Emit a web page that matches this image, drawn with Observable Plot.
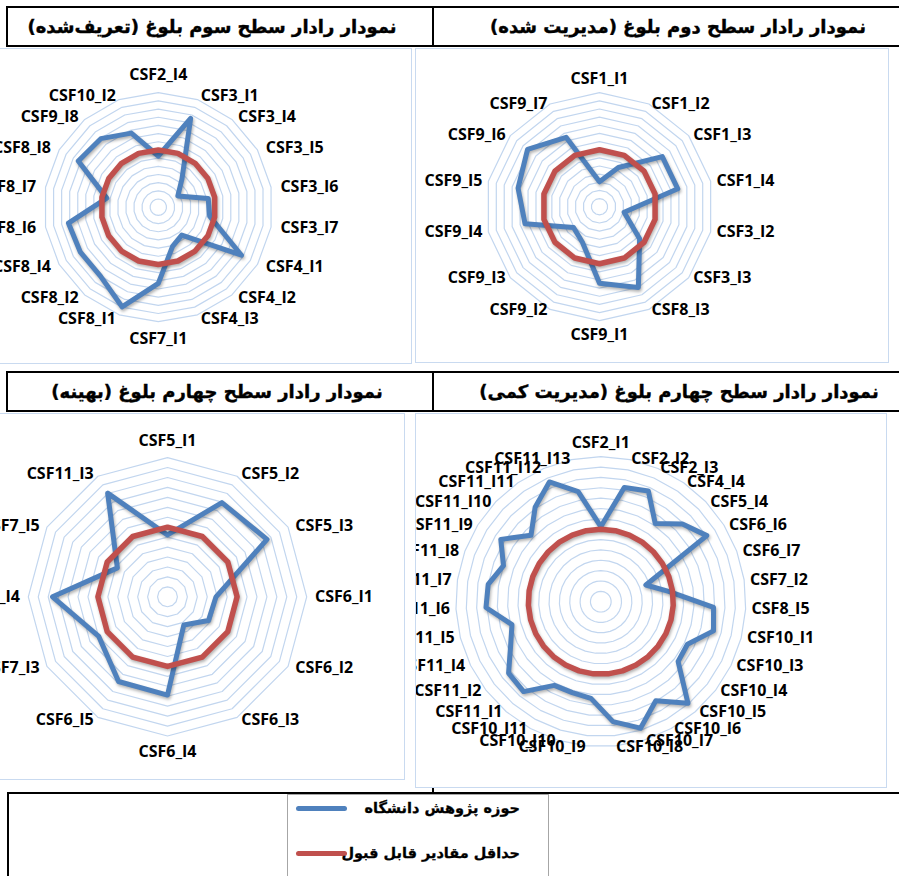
<!DOCTYPE html>
<html><head><meta charset="utf-8">
<script src="https://cdn.jsdelivr.net/npm/d3@7"></script>
<script src="https://cdn.jsdelivr.net/npm/@observablehq/plot@0.6"></script>
<style>
body{margin:0;background:#fff;}
#page{position:relative;width:899px;height:876px;overflow:hidden;background:#fff;}
.ln{position:absolute;background:#000;}
.box{position:absolute;border:1.5px solid #c9daf0;box-sizing:border-box;background:#fff;overflow:hidden;}
.box svg{position:absolute;left:0;top:0;max-width:none;}
.hdr{position:absolute;font-family:"DejaVu Sans";font-weight:bold;font-size:18px;direction:rtl;white-space:nowrap;transform:translate(-50%,-50%);color:#000;-webkit-text-stroke:0.4px #000;}
#legend{position:absolute;left:287px;top:794px;width:262px;height:100px;border:1px solid #a6a6a6;box-sizing:border-box;background:#fff;}
.lgline{position:absolute;height:5px;border-radius:3px;}
.lgtxt{position:absolute;font-family:"DejaVu Sans";font-weight:bold;font-size:14.5px;direction:rtl;white-space:nowrap;transform:translateY(-50%);-webkit-text-stroke:0.3px #000;}
g[stroke="#4f81bd"], g[stroke="#c0504d"]{filter:drop-shadow(1.5px 2px 1.5px rgba(0,0,0,0.3));}
</style></head>
<body><div id="page"></div>
<script>
// ---------- data ----------
const rings = [0.5,1,1.5,2,2.5,3,3.5,4,4.5,5,5.5,6,6.5,7];
const MAXV = 7;

const catsTL = ["CSF2_I4","CSF3_I1","CSF3_I4","CSF3_I5","CSF3_I6","CSF3_I7","CSF4_I1","CSF4_I2","CSF4_I3","CSF7_I1","CSF8_I1","CSF8_I2","CSF8_I4","CSF8_I6","CSF8_I7","CSF8_I8","CSF9_I8","CSF10_I2"];
const blueTL = [3.13,5.78,2.25,1.38,3.1,3.19,5.87,2.23,2.55,4.66,6.48,5.5,5.5,5.58,3.2,5.65,5.47,4.82];
const redTL  = [3.5,3.5,3.5,3.5,3.5,3.5,3.5,3.5,3.5,3.5,3.5,3.5,3.5,3.5,3.5,3.5,3.5,3.5];

const catsTR = ["CSF1_I1","CSF1_I2","CSF1_I3","CSF1_I4","CSF3_I2","CSF3_I3","CSF8_I3","CSF9_I1","CSF9_I2","CSF9_I3","CSF9_I4","CSF9_I5","CSF9_I6","CSF9_I7"];
const blueTR = [1.53,2.67,4.93,4.93,1.55,3.15,5.5,4.7,2.42,2.04,4.69,5.13,5.65,4.73];
const redTR  = [3.5,3.5,3.5,3.5,3.5,3.5,3.5,3.5,3.5,3.5,3.5,3.5,3.5,3.5];

const catsBL = ["CSF5_I1","CSF5_I2","CSF5_I3","CSF6_I1","CSF6_I2","CSF6_I3","CSF6_I4","CSF6_I5","CSF7_I3","CSF7_I4","CSF7_I5","CSF11_I3"];
const blueBL = [3.11,5.47,5.78,2.44,2.38,1.64,4.94,4.92,3.99,5.78,2.91,6.02];
const redBL  = [3.5,3.5,3.5,3.5,3.5,3.5,3.5,3.5,3.5,3.5,3.5,3.5];

const catsBR = ["CSF2_I1","CSF2_I2","CSF2_I3","CSF4_I4","CSF5_I4","CSF6_I6","CSF6_I7","CSF7_I2","CSF8_I5","CSF10_I1","CSF10_I3","CSF10_I4","CSF10_I5","CSF10_I6","CSF10_I7","CSF10_I8","CSF10_I9","CSF10_I10","CSF10_I11","CSF11_I1","CSF11_I2","CSF11_I4","CSF11_I5","CSF11_I6","CSF11_I7","CSF11_I8","CSF11_I9","CSF11_I10","CSF11_I11","CSF11_I12","CSF11_I13"];
const blueBR = [3.62,5.63,5.82,4.6,5.44,6.03,2.32,3.31,5.45,5.62,4.66,4.72,6.46,5.47,6.4,5.82,4.69,4.6,4.62,5.72,5.63,4.85,4.43,5.55,5.5,5.01,5.69,4.65,5.55,6.29,5.43];
const redBR  = [3.5,3.5,3.5,3.5,3.5,3.5,3.5,3.5,3.5,3.5,3.5,3.5,3.5,3.5,3.5,3.5,3.5,3.5,3.5,3.5,3.5,3.5,3.5,3.5,3.5,3.5,3.5,3.5,3.5,3.5,3.5];

const titles = {
  tl: "نمودار رادار سطح سوم بلوغ (تعریف\u200cشده)",
  tr: "نمودار رادار سطح دوم بلوغ (مدیریت شده)",
  bl: "نمودار رادار سطح چهارم بلوغ (بهینه)",
  br: "نمودار رادار سطح چهارم بلوغ (مدیریت کمی)"
};
const seriesNames = ["حوزه پژوهش دانشگاه", "حداقل مقادیر قابل قبول"];

// ---------- styles / layout ----------
const BLUE = "#4f81bd", RED = "#c0504d", GRID = "#c2d6ef";
const BW = 1.5;
const page = document.getElementById("page");

function el(cls, css, text) {
  const d = document.createElement("div");
  d.className = cls;
  Object.assign(d.style, css);
  if (text != null) d.textContent = text;
  page.appendChild(d);
  return d;
}

function radar(cfg, cats, blue, red) {
  const n = cats.length;
  const k = cfg.R / MAXV;
  const ang = i => 2 * Math.PI * i / n;
  const [bl, bt, bw, bh] = cfg.box;
  const ox = bl + BW, oy = bt + BW, w = bw - 2 * BW, h = bh - 2 * BW;
  const x0 = (ox - cfg.cx) / k, x1 = (ox + w - cfg.cx) / k;
  const yTop = (cfg.cy - oy) / k, yBot = (cfg.cy - (oy + h)) / k;
  const grid = rings.flatMap(r => cats.map((c, i) => ({r, i})));
  const rows = cats.map((c, i) => ({i, b: blue[i], m: red[i]}));
  const L = cfg.Lr / k;
  const labels = cats.map((c, i) => {
    const t = ang(i), s = Math.sin(t), co = Math.cos(t);
    const mid = Math.abs(s) < 0.01;
    return {c, x: mid ? 0 : L * s, y: mid ? (L + 8 / k) * co : (L - 5.5 / k) * co,
            a: mid ? "middle" : (s > 0 ? "start" : "end")};
  });
  const tx = {x: "x", y: "y", text: "c", fontSize: 16, fontWeight: "bold", fill: "#000"};
  const svg = Plot.plot({
    width: w, height: h, margin: 0,
    x: {domain: [x0, x1], axis: null},
    y: {domain: [yBot, yTop], axis: null},
    style: {fontFamily: "Open Sans", background: "transparent", overflow: "hidden"},
    marks: [
      Plot.line(grid, {x: d => d.r * Math.sin(ang(d.i)), y: d => d.r * Math.cos(ang(d.i)), z: "r",
        curve: "linear-closed", stroke: GRID, strokeWidth: 1.2}),
      Plot.line(rows, {x: d => d.b * Math.sin(ang(d.i)), y: d => d.b * Math.cos(ang(d.i)),
        curve: "linear-closed", stroke: BLUE, strokeWidth: 5, strokeLinejoin: "round"}),
      Plot.line(rows, {x: d => d.m * Math.sin(ang(d.i)), y: d => d.m * Math.cos(ang(d.i)),
        curve: "linear-closed", stroke: RED, strokeWidth: 5.5, strokeLinejoin: "round"}),
      Plot.text(labels.filter(d => d.a === "start"), {...tx, textAnchor: "start"}),
      Plot.text(labels.filter(d => d.a === "end"), {...tx, textAnchor: "end"}),
      Plot.text(labels.filter(d => d.a === "middle"), {...tx, textAnchor: "middle"})
    ]
  });
  const box = el("box", {left: bl + "px", top: bt + "px", width: bw + "px", height: bh + "px"});
  box.appendChild(svg);
}

// table lines
const lines = [
  [7, 6, 892, 2], [7, 45, 892, 2], [6, 6, 2, 41], [432, 6, 2, 41],
  [7, 371, 892, 2], [7, 410, 892, 2], [6, 371, 2, 41], [432, 371, 2, 41],
  [7, 792, 892, 2], [7, 792, 2, 90], [432, 786, 1.5, 8]
];
lines.forEach(([l, t, w, h]) => el("ln", {left: l + "px", top: t + "px", width: w + "px", height: h + "px"}));

// headers
el("hdr", {left: "212px", top: "26px"}, titles.tl);
el("hdr", {left: "678px", top: "26px"}, titles.tr);
el("hdr", {left: "217px", top: "391px"}, titles.bl);
el("hdr", {left: "679px", top: "391px"}, titles.br);

// charts
radar({cx: 158.3, cy: 207.2, R: 114.5, Lr: 124, box: [-2, 48, 414, 316]}, catsTL, blueTL, redTL);
radar({cx: 599.5, cy: 206.7, R: 114, Lr: 120, box: [415, 48, 474, 315]}, catsTR, blueTR, redTR);
radar({cx: 167.5, cy: 596.8, R: 139.2, Lr: 147.5, box: [-2, 413, 407, 367]}, catsBL, blueBL, redBL);
radar({cx: 600.8, cy: 601.7, R: 145, Lr: 151, box: [415, 413, 472, 375]}, catsBR, blueBR, redBR);

// legend
const lg = el("", {}, null); lg.id = "legend";
[[BLUE, 807, seriesNames[0]], [RED, 852, seriesNames[1]]].forEach(([c, y, t]) => {
  const ln = document.createElement("div"); ln.className = "lgline";
  Object.assign(ln.style, {left: (296 - 288) + "px", top: (y - 794 - 2.5) + "px", width: "51px", background: c});
  lg.appendChild(ln);
  const tt = document.createElement("div"); tt.className = "lgtxt"; tt.textContent = t;
  Object.assign(tt.style, {right: (549 - 521) + "px", top: (y - 794) + "px"});
  lg.appendChild(tt);
});
</script></body></html>
